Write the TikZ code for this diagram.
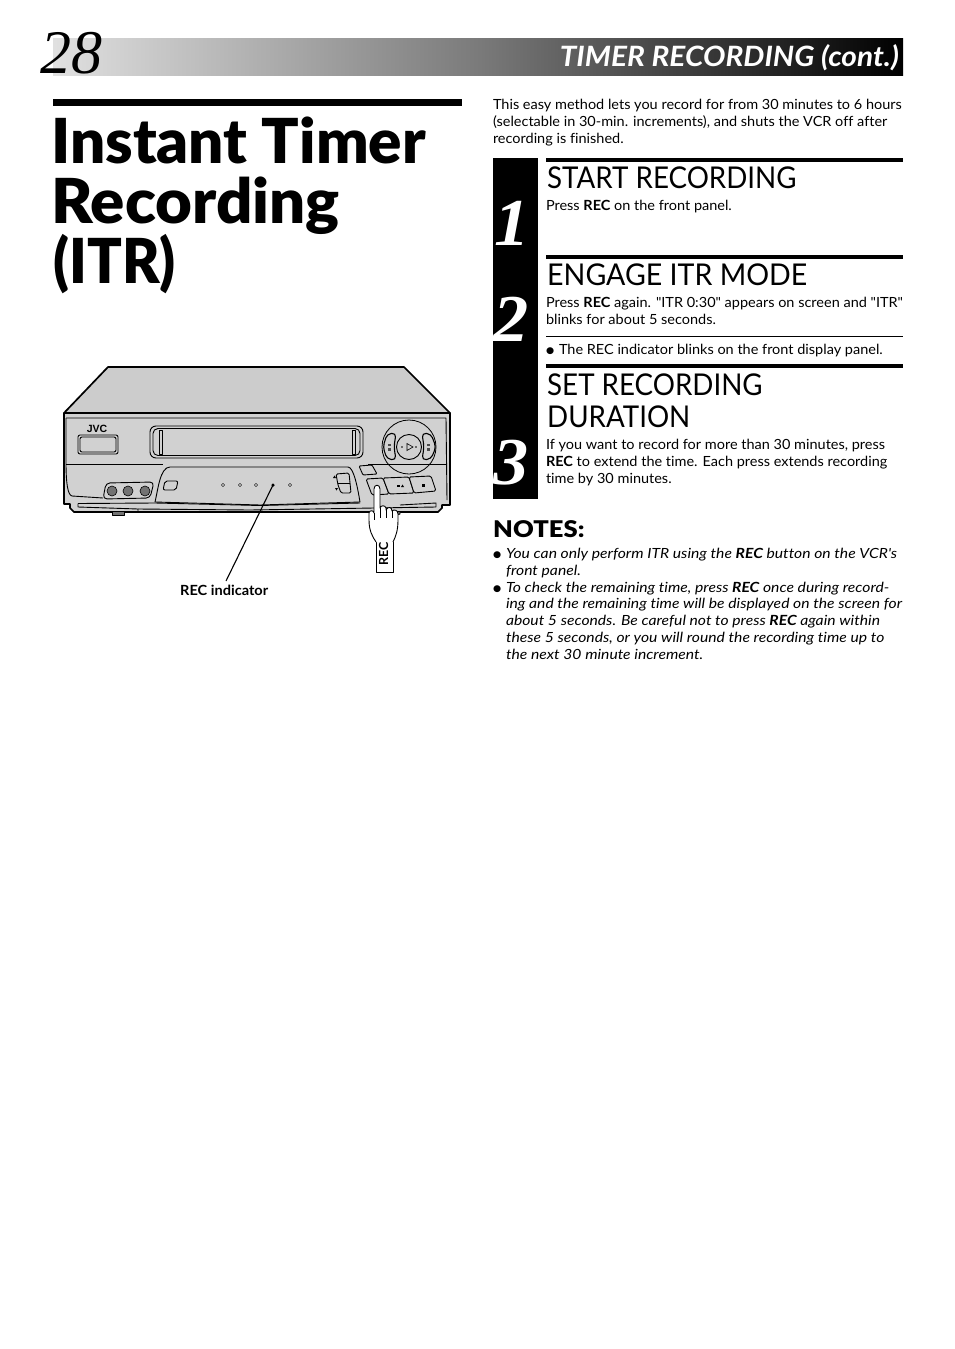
\documentclass[tikz,border=0pt]{standalone}
\usepackage{fontspec}
\setmainfont{Lato}[Ligatures={TeXOff,NoCommon}]
\newfontfamily\serifit{Liberation Serif}
\newfontfamily\titlef{Lato Black}[Ligatures={TeXOff,NoCommon}]
\newfontfamily\logof{Liberation Sans}
\newfontfamily\dejav{DejaVu Sans}
\usetikzlibrary{shadings,shapes.geometric}
\definecolor{vcrtop}{gray}{0.80}
\definecolor{vcrfront}{gray}{0.82}
\newcommand{\bull}{{\dejav\fontsize{9}{9}\selectfont\raisebox{1pt}{●}}}
\tikzset{
 x=1pt,y=-1pt,
 txt/.style={anchor=base west,inner sep=0pt,outer sep=0pt,font=\fontsize{14}{14}\selectfont,xscale=1.035},
 ital/.style={anchor=base west,inner sep=0pt,outer sep=0pt,font=\fontsize{14}{14}\selectfont\itshape,xscale=1.12},
 head/.style={anchor=base west,inner sep=0pt,font=\fontsize{30}{30}\selectfont,xscale=0.924},
 ttl/.style={anchor=base west,inner sep=0pt,font=\fontsize{62}{64}\selectfont\titlef},
 num/.style={anchor=base,inner sep=0pt,text=white,font=\fontsize{67}{67}\selectfont\bfseries\itshape\serifit,xscale=1.05},
 vl/.style={draw=black,line width=0.9pt,line join=round},
 vt/.style={draw=black,line width=1.7pt,line join=round},
}
\begin{document}
\begin{tikzpicture}
\useasboundingbox (0,0) rectangle (954,1349);
\fill[white] (0,0) rectangle (954,1349);
% header
\shade[left color=black!12,right color=black,shading angle=90,middle color=black!52] (53,38) rectangle (903,75.5);
\node[anchor=base west,inner sep=0pt,font=\fontsize{62}{62}\selectfont\itshape\serifit] (pg) at (40,73) {28};
\node[anchor=base east,inner sep=0pt,text=white,font=\fontsize{28}{28}\selectfont\itshape\bfseries,xscale=1.065] (ht) at (899,66) {TIMER RECORDING (cont.)};
% title
\fill[black] (53,99) rectangle (462,106);
\node[ttl] (t1) at (51,163) {Instant Timer};
\node[ttl,xscale=1.025] (t2) at (51,223) {Recording};
\node[ttl,xscale=0.925] (t3) at (53,283) {(ITR)};
% intro
\node[txt] (i1) at (493,109) {This easy method lets you record for from 30 minutes to 6 hours};
\node[txt] (i2) at (493,126) {(selectable in 30-min. increments), and shuts the VCR off after};
\node[txt] (i3) at (493,143) {recording is finished.};
% step column
\fill[black] (493,158) rectangle (538,499);
\fill[black] (546,158) rectangle (903,162);
\fill[black] (546,255) rectangle (903,259);
\fill[black] (546,364) rectangle (903,368);
\fill[black] (546,336) rectangle (903,337);
\node[num] (n1) at (512,245) {1};
\node[num] (n2) at (511,341.5) {2};
\node[num] (n3) at (511,484) {3};
\node[head] (h1) at (547,188.5) {START RECORDING};
\node[txt] (s1) at (546,210) {Press \textbf{REC} on the front panel.};
\node[head,xscale=1.03] (h2) at (547,285.5) {ENGAGE ITR MODE};
\node[txt] (s2a) at (546,307) {Press \textbf{REC} again. "ITR 0:30" appears on screen and "ITR"};
\node[txt] (s2b) at (546,324) {blinks for about 5 seconds.};
\node[txt] (b0) at (546,354) {\bull};
\node[txt] (s2c) at (559,354) {The REC indicator blinks on the front display panel.};
\node[head] (h3a) at (547,395) {SET RECORDING};
\node[head] (h3b) at (547,427) {DURATION};
\node[txt] (s3a) at (546,449) {If you want to record for more than 30 minutes, press};
\node[txt] (s3b) at (546,466) {\textbf{REC} to extend the time. Each press extends recording};
\node[txt] (s3c) at (546,483) {time by 30 minutes.};
% notes
\node[anchor=base west,inner sep=0pt,font=\fontsize{23}{23}\selectfont\titlef,xscale=1.11] (nt) at (493,537) {NOTES:};
\node[txt] (b1) at (493,558) {\bull};
\node[ital] (a1) at (506,558) {You can only perform ITR using the \textbf{REC} button on the VCR's};
\node[ital] (a2) at (506,575) {front panel.};
\node[txt] (b2) at (493,592) {\bull};
\node[ital] (a3) at (506,592) {To check the remaining time, press \textbf{REC} once during record-};
\node[ital] (a4) at (506,608) {ing and the remaining time will be displayed on the screen for};
\node[ital] (a5) at (506,625) {about 5 seconds. Be careful not to press \textbf{REC} again within};
\node[ital] (a6) at (506,642) {these 5 seconds, or you will round the recording time up to};
\node[ital] (a7) at (506,659) {the next 30 minute increment.};
% VCR body
\draw[vt,fill=vcrtop] (108,367) -- (404,367) -- (450,413) -- (64,413) -- cycle;
\draw[vt,fill=vcrfront] (64,413) -- (450,413) -- (450,505) -- (442,505) -- (442,508) -- (438,512) -- (74,512) -- (70,508) -- (70,504) -- (64,504) -- cycle;
\draw[vl] (66,418) -- (446,418) -- (447,500);
\draw[vl] (66,418) -- (66,462) .. controls (66,485) and (68,495) .. (72,496) -- (103,498);
\draw[vl] (66,464) -- (163,464);
\draw[vl] (368,464) -- (447,464);
\draw[vl] (78,503.5) -- (78,507) -- (138,509) -- (138,512);
\draw[vl] (78,503.5) -- (155,503) -- (260,505.5) -- (360,503);
\draw[vl] (138,509) -- (250,510) -- (436,507) -- (436,503) -- (400,505);
\draw[vl,fill=black!55] (112,512) -- (112,515) -- (124,515) -- (124,512);
\draw[vl,fill=black!55] (397,512) -- (397,515) -- (400,514) -- (400,512);
% logo and window
\node[anchor=center,inner sep=0pt,font=\fontsize{10.5}{10}\selectfont\bfseries\logof] (jvc) at (97,429) {JVC};
\draw[vl,fill=vcrfront,rounded corners=2pt] (78,435) rectangle (118,454);
\draw[vl,rounded corners=2pt] (80,437) rectangle (116,452);
\draw[vl,rounded corners=6pt] (150,426) rectangle (363,458);
\draw[vl,rounded corners=5pt] (153,428.5) rectangle (360,455.5);
\draw[vl] (159,430) rectangle (162,454);
\draw[vl] (352,430) rectangle (355,454);
% jacks
\draw[vl,rounded corners=4pt] (106,483) -- (154,482) -- (150,498) -- (103,499) -- cycle;
\foreach \nx/\cx in {ja/112,jb/128,jc/145}{
  \node[circle,draw=black,fill=black!55,line width=0.6pt,minimum size=10pt,inner sep=0pt] (\nx) at (\cx,491) {};
}
% front panel
\draw[vl,fill=vcrfront] (155,502) .. controls (158,490) and (160,467) .. (170,467) -- (348,467) .. controls (354,467) and (358,490) .. (360,502) -- (260,505) -- cycle;
\draw[vl,rounded corners=2pt] (165,481) -- (178,481) -- (176,490) -- (163,490) -- cycle;
\foreach \nn/\dx in {da/223,db/240,dc/256,dd/290}{
  \node[diamond,draw=black,line width=0.4pt,minimum size=3.5pt,inner sep=0pt,aspect=1] (\nn) at (\dx,485) {};
}
\node[circle,fill=black,minimum size=3.5pt,inner sep=0pt] (recdot) at (273,485) {};
\draw[vl,rounded corners=1.5pt] (336,474) -- (349,473) -- (351,493) -- (341,493) -- (338,485) -- cycle;
\draw[vl,line width=1.4pt] (338,483.5) -- (350,483.5);
\fill[black] (333,478) -- (336,478) -- (334.5,475.5) -- cycle;
\fill[black] (335,488) -- (338,488) -- (336.5,490.5) -- cycle;
% buttons
\draw[vl,fill=vcrfront,rounded corners=1pt] (359,466) -- (372,465) -- (377,474) -- (363,475) -- cycle;
\draw[vl,fill=vcrfront,rounded corners=1.5pt] (366,479) -- (383,478) -- (389,494) -- (372,495) -- cycle;
\draw[vl,fill=vcrfront,rounded corners=1.5pt] (383,478) -- (409,477) -- (414,493) -- (389,494) -- cycle;
\draw[vl,fill=vcrfront,rounded corners=1.5pt] (409,477) -- (431,476) -- (436,491) -- (414,493) -- cycle;
\fill[black] (397,484.5) rectangle (399.5,487);
\fill[black] (401,487) -- (402.5,484.5) -- (404,487) -- cycle;
\fill[black] (422,484) rectangle (424.5,486.5);
% jog
\node[circle,draw=black,line width=0.8pt,minimum size=54pt,inner sep=0pt] (jog) at (409,447) {};
\node[circle,draw=black,line width=0.9pt,minimum size=25pt,inner sep=0pt] (play) at (409,447) {};
\draw[draw=black,line width=0.6pt] (407,443.5) -- (413,447) -- (407,450.5) -- cycle;
\fill[black] (402,447) circle[radius=0.8];
\fill[black] (416,447) circle[radius=0.8];
\draw[vl,line width=1.1pt,fill=vcrfront,rounded corners=4pt] (396,433) -- (387,434) -- (383,447) -- (387,459) -- (396,460) -- (394,447) -- cycle;
\draw[vl,line width=1.1pt,fill=vcrfront,rounded corners=4pt] (422,433) -- (431,434) -- (436,447) -- (431,459) -- (422,460) -- (424,447) -- cycle;
\fill[black!70] (388,444) rectangle (391,446);
\fill[black!70] (388,448) rectangle (391,451);
\fill[black!70] (427,444) rectangle (430,446);
\fill[black!70] (427,448) rectangle (430,451);
% hand
\fill[white] (376,540) rectangle (393,572);
\draw[vl] (376,542) -- (376,572) -- (393,572) -- (393,542);
\draw[vl,fill=white] (376,542) .. controls (372,536) and (369,530) .. (369,520) -- (369,513) .. controls (369,510) and (374,510) .. (374,513) -- (374,489) .. controls (374,484) and (380,484) .. (380,489) -- (380,508) .. controls (381,505) and (385,505) .. (386,508) -- (386,510) .. controls (388,506) and (392,507) .. (392,511) .. controls (394,509) and (398,510) .. (398,514) -- (398,520) .. controls (398,530) and (396,536) .. (393,542);
\draw[vl] (374,513) -- (374,520);
\draw[vl] (380,508) -- (380,518);
\draw[vl] (386,510) -- (386,518);
\draw[vl] (392,511) -- (392,518);
\node[rotate=90,inner sep=0pt,font=\fontsize{12.5}{12}\selectfont\bfseries] (hrec) at (383.5,554) {REC};
% label and leader
\node[anchor=base west,inner sep=0pt,font=\fontsize{14}{14}\selectfont\bfseries,xscale=1.04] (rl) at (180,595) {REC indicator};
\coordinate (lead) at (226,581);
\draw[black,line width=1.1pt] (recdot.center) -- (lead);
\end{tikzpicture}
\end{document}
